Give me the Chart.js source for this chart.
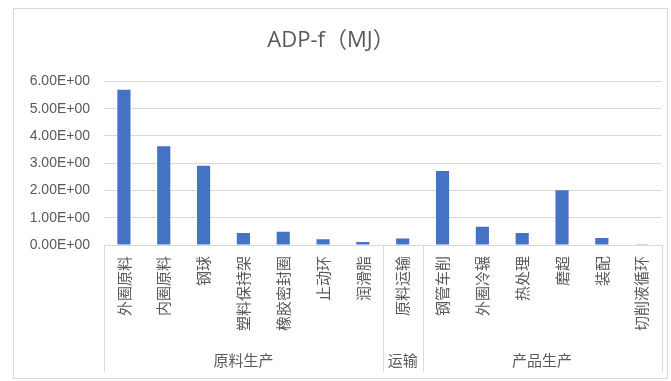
<!DOCTYPE html>
<html>
<head>
<meta charset="utf-8">
<script src="https://cdn.jsdelivr.net/npm/chart.js@4.4.1/dist/chart.umd.min.js"></script>
<style>
html,body{margin:0;padding:0;background:#ffffff;}
#c{display:block;}
</style>
</head>
<body>
<canvas id="c" width="671" height="381" style="width:671px;height:381px"></canvas>
<script>
const titleText = 'ADP-f（MJ）';
const categories = ['外圈原料','内圈原料','钢球','塑料保持架','橡胶密封圈','止动环','润滑脂','原料运输','钢管车削','外圈冷辗','热处理','磨超','装配','切削液循环'];
const values = [5.69, 3.62, 2.91, 0.44, 0.49, 0.21, 0.11, 0.24, 2.71, 0.67, 0.44, 2.01, 0.26, 0.03];
const groupNames = ['原料生产','运输','产品生产'];
const groupSizes = [7, 1, 6];
const yTickLabels = ['0.00E+00','1.00E+00','2.00E+00','3.00E+00','4.00E+00','5.00E+00','6.00E+00'];

const FONT = '"Liberation Sans", "Noto Sans CJK SC", sans-serif';
const TFONT = '"Open Sans", "Noto Sans CJK SC", sans-serif';
const CJK = '"Noto Sans CJK SC", "Liberation Sans", sans-serif';
const TEXT = '#595959';
const GRID = '#d9d9d9';

const groupPlugin = {
  id: 'groups',
  afterDraw(chart) {
    const ctx = chart.ctx;
    const x = chart.scales.x;
    const yBase = chart.chartArea.bottom;
    const yEnd = 372;
    ctx.save();
    ctx.strokeStyle = GRID;
    ctx.lineWidth = 1;
    let start = 0;
    const bounds = [0];
    groupSizes.forEach(s => { start += s; bounds.push(start); });
    bounds.forEach(b => {
      const px = Math.round(x.getPixelForValue(b - 0.5)) + 0.5;
      ctx.beginPath();
      ctx.moveTo(px, yBase);
      ctx.lineTo(px, yEnd);
      ctx.stroke();
    });
    ctx.fillStyle = TEXT;
    ctx.font = '15px ' + CJK;
    ctx.textAlign = 'center';
    ctx.textBaseline = 'middle';
    groupNames.forEach((g, i) => {
      const l = x.getPixelForValue(bounds[i] - 0.5);
      const r = x.getPixelForValue(bounds[i + 1] - 0.5);
      ctx.fillText(g, (l + r) / 2, 360);
    });
    ctx.strokeStyle = GRID;
    ctx.strokeRect(13.5, 8.5, 654, 370);
    ctx.restore();
  }
};

new Chart(document.getElementById('c'), {
  type: 'bar',
  data: {
    labels: categories,
    datasets: [{
      data: values,
      backgroundColor: '#4472C4',
      borderWidth: 0,
      categoryPercentage: 1,
      barPercentage: 0.33
    }]
  },
  options: {
    responsive: false,
    devicePixelRatio: 1,
    animation: false,
    layout: { padding: { left: 0, right: 9, top: 0, bottom: 0 } },
    plugins: {
      legend: { display: false },
      tooltip: { enabled: false },
      title: {
        display: true,
        text: titleText,
        color: TEXT,
        font: { family: TFONT, size: 22, weight: 'normal' },
        padding: { top: 28, bottom: 27 }
      }
    },
    scales: {
      x: {
        grid: { display: false, drawTicks: false },
        border: { display: true, color: GRID },
        ticks: {
          autoSkip: false,
          minRotation: 90,
          maxRotation: 90,
          padding: 11,
          color: TEXT,
          font: { family: CJK, size: 15 }
        },
        afterFit(s) { s.height = 136; }
      },
      y: {
        min: 0,
        max: 6,
        grid: { color: GRID, drawTicks: false },
        border: { display: false },
        ticks: {
          stepSize: 1,
          padding: 14,
          color: TEXT,
          font: { family: FONT, size: 14 },
          callback: (v, i) => yTickLabels[i]
        },
        afterFit(s) { s.width = 104; }
      }
    }
  },
  plugins: [groupPlugin]
});
</script>
</body>
</html>
